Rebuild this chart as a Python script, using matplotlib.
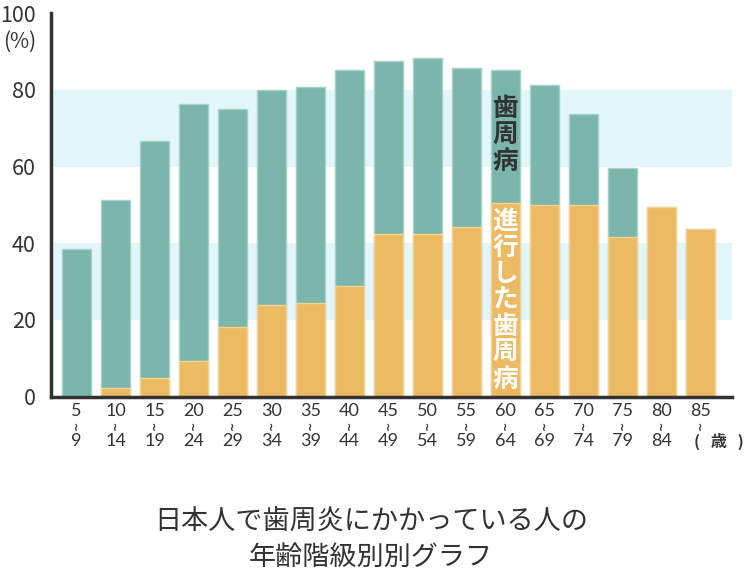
import numpy as np
import matplotlib.pyplot as plt
from matplotlib.transforms import blended_transform_factory

plt.rcParams['font.family'] = ['Noto Sans CJK JP', 'DejaVu Sans']

age_start = ['5', '10', '15', '20', '25', '30', '35', '40', '45', '50',
             '55', '60', '65', '70', '75', '80', '85']
age_end = ['9', '14', '19', '24', '29', '34', '39', '44', '49', '54',
           '59', '64', '69', '74', '79', '84', '']
# share of people with periodontal disease (%) - total and advanced
total = [38.6, 51.3, 66.7, 76.2, 74.9, 80.0, 80.7, 85.1, 87.6, 88.3,
         85.7, 85.1, 81.3, 73.6, 59.6, 49.4, 43.7]
advanced = [0, 2.3, 4.8, 9.3, 18.2, 23.9, 24.4, 28.9, 42.4, 42.4,
            44.3, 50.6, 50.0, 50.0, 41.7, 49.4, 43.7]
yticks = [0, 20, 40, 60, 80, 100]

green = '#7bb6ab'
orange = '#ecba62'
band = '#e2f6fc'
dark = '#333333'

fig = plt.figure(figsize=(7.48, 5.78), dpi=100)
ax = fig.add_axes([0.0682, 0.3137, 0.9104, 0.6635])

x = np.arange(len(total))
width = 0.74

for lo, hi in [(20, 40), (60, 80)]:
    ax.axhspan(lo, hi, color=band, zorder=0, lw=0)

ax.bar(x, total, width, color=green, edgecolor='#a6d2c8', linewidth=1.0, zorder=2)
ax.bar(x, advanced, width, color=orange, edgecolor='#f4d393', linewidth=1.0, zorder=3)

ax.set_xlim(-0.654, 16.81)
ax.set_ylim(0, 100)

for s in ['top', 'right']:
    ax.spines[s].set_visible(False)
for s in ['left', 'bottom']:
    ax.spines[s].set_color(dark)
    ax.spines[s].set_linewidth(2.5)
    ax.spines[s].set_zorder(5)

ax.set_yticks(yticks)
ax.set_yticklabels([str(v) for v in yticks], fontsize=15.5, color=dark)
ax.tick_params(axis='y', length=0, pad=11)
ax.set_xticks([])

fig.text(20 / 748, 1 - 42 / 578, '(%)', ha='center', va='center',
         fontsize=15, color=dark)

# age labels below the axis
tr = blended_transform_factory(ax.transData, fig.transFigure)
for i in range(len(x)):
    ax.text(x[i], 1 - 411 / 578, age_start[i], transform=tr, ha='center',
            va='center', fontsize=13, color=dark, family='Lato')
    ax.text(x[i], 1 - 425.5 / 578, '~', transform=tr, ha='center',
            va='center', fontsize=8, color=dark, family='DejaVu Sans',
            fontweight='bold', rotation=90)
    if age_end[i]:
        ax.text(x[i], 1 - 441 / 578, age_end[i], transform=tr, ha='center',
                va='center', fontsize=13, color=dark, family='Lato')
fig.text(719 / 748, 1 - 441 / 578, '(   歳   )', ha='center', va='center',
         fontsize=11.5, color=dark, fontweight='bold')

# vertical labels inside the 60-64 bar
ax.text(x[11], 1 - 135 / 578, '\n'.join('歯周病'), transform=tr, ha='center',
        va='center', fontsize=18.5, fontweight='bold', color=dark, linespacing=0.97)
ax.text(x[11], 1 - 300 / 578, '\n'.join('進行した歯周病'), transform=tr,
        ha='center', va='center', fontsize=18.5, fontweight='bold',
        color='white', linespacing=0.97)

fig.text(371 / 748, 1 - 521 / 578, '日本人で歯周炎にかかっている人の',
         ha='center', va='center', fontsize=19.5, color=dark)
fig.text(371 / 748, 1 - 557 / 578, '年齢階級別別グラフ',
         ha='center', va='center', fontsize=19.5, color=dark)

plt.savefig('out.png', dpi=100)
